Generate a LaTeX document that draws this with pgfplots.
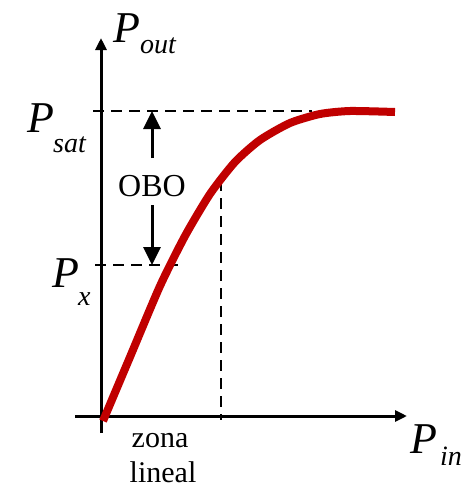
\documentclass[border=0pt]{standalone}
\usepackage{pgfplots}
\pgfplotsset{compat=1.18}
\usepackage{fontspec}
\setmainfont{Liberation Serif}
\usetikzlibrary{arrows.meta}
\definecolor{curvered}{HTML}{C00000}
\begin{document}
\begin{tikzpicture}
\begin{axis}[hide axis, scale only axis, width=475pt, height=488pt,
  xmin=0, xmax=475, ymin=0, ymax=488, y dir=reverse, clip=false]
\path (axis cs:0,0) rectangle (axis cs:475,488);
% axes
\addplot[black, line width=3pt, -{Triangle[length=12pt,width=11pt]}] coordinates {(101,433) (101,38)};
\addplot[black, line width=3pt, -{Triangle[length=12pt,width=11pt]}] coordinates {(75,416) (407,416)};
% dashed guides
\addplot[black, line width=2.6pt, dash pattern=on 11pt off 7pt] coordinates {(93,111) (312,111)};
\addplot[black, line width=2.6pt, dash pattern=on 11pt off 7pt] coordinates {(95,265) (180,265)};
\addplot[black, line width=2.6pt, dash pattern=on 11pt off 7pt] coordinates {(221,180) (221,420)};
% OBO arrows
\addplot[black, line width=3pt, -{Triangle[length=18pt,width=17pt]}] coordinates {(152,158) (152,111)};
\addplot[black, line width=3pt, -{Triangle[length=18pt,width=17pt]}] coordinates {(152,205) (152,265)};
% curve
\addplot[curvered, line width=8pt, smooth, tension=0.4] coordinates {
(103,421) (130,357) (160,286) (185,236) (210,194) (235,162)
(260,140) (290,123) (320,114) (350,111) (395,112)};
% labels
\node[anchor=base west, inner sep=0, font=\fontsize{44}{44}\selectfont\itshape] at (axis cs:113,42) {P};
\node[anchor=base west, inner sep=0, font=\fontsize{28}{28}\selectfont\itshape] at (axis cs:140,53) {out};
\node[anchor=base west, inner sep=0, font=\fontsize{44}{44}\selectfont\itshape] at (axis cs:27,132) {P};
\node[anchor=base west, inner sep=0, font=\fontsize{28}{28}\selectfont\itshape] at (axis cs:53,152) {sat};
\node[anchor=base west, inner sep=0, font=\fontsize{44}{44}\selectfont\itshape] at (axis cs:52,287) {P};
\node[anchor=base west, inner sep=0, font=\fontsize{28}{28}\selectfont\itshape] at (axis cs:78,305) {x};
\node[anchor=base west, inner sep=0, font=\fontsize{44}{44}\selectfont\itshape] at (axis cs:410,453) {P};
\node[anchor=base west, inner sep=0, font=\fontsize{28}{28}\selectfont\itshape] at (axis cs:440,465) {in};
\node[anchor=base, inner sep=0, font=\fontsize{32}{32}\selectfont] at (axis cs:152,196) {OBO};
\node[anchor=base, inner sep=0, font=\fontsize{30}{30}\selectfont] at (axis cs:160,447) {zona};
\node[anchor=base, inner sep=0, font=\fontsize{30}{30}\selectfont] at (axis cs:163,482) {lineal};
\end{axis}
\end{tikzpicture}
\end{document}
